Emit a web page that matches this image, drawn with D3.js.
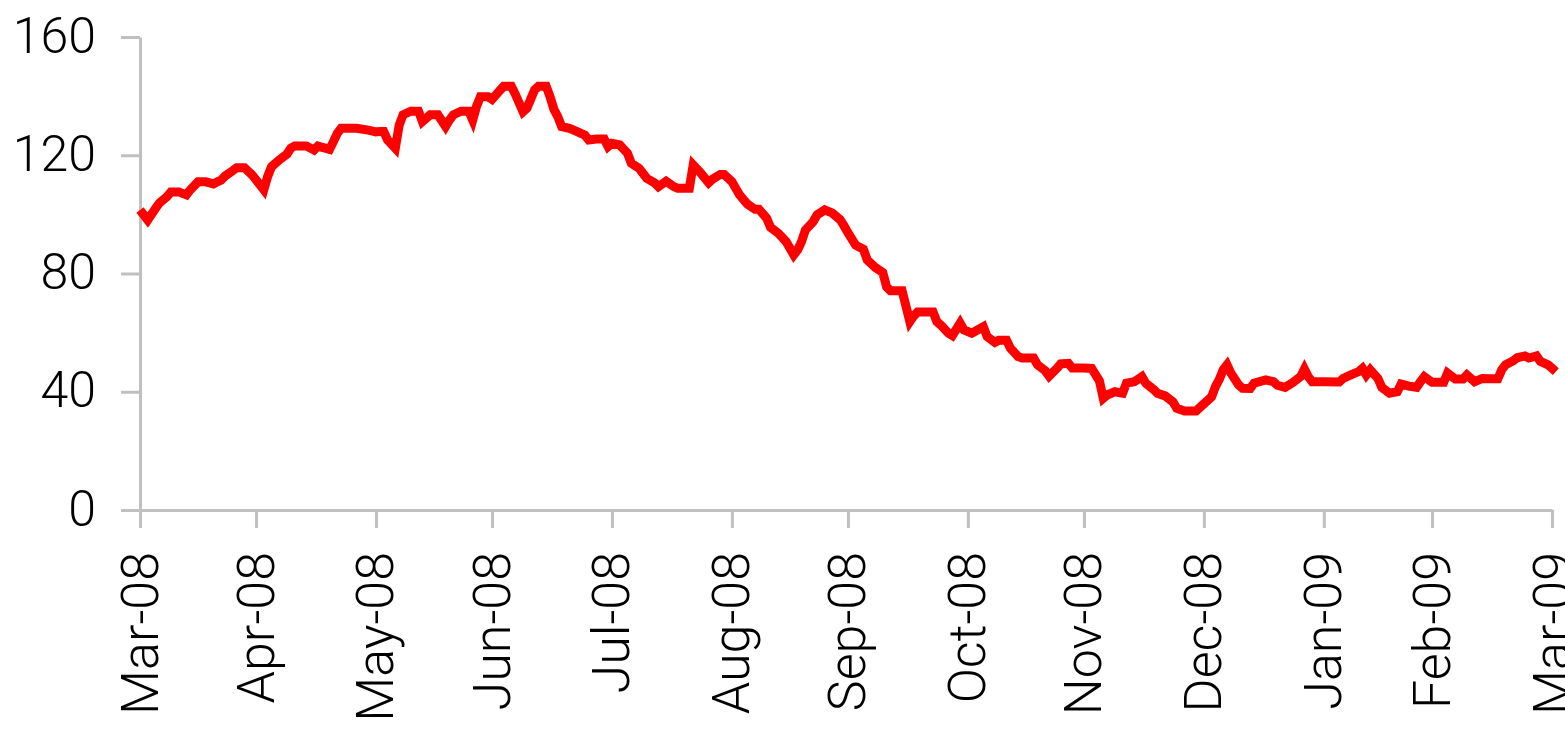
<!DOCTYPE html>
<html>
<head>
<meta charset="utf-8">
<script src="https://cdn.jsdelivr.net/npm/d3@7"></script>
<style>
  html, body { margin: 0; padding: 0; background: #fff; }
  svg { display: block; }
  .axis text { font-family: Roboto, "Liberation Sans", sans-serif; font-weight: 300; fill: #000; }
</style>
</head>
<body>
<svg id="chart" width="1565" height="735"></svg>
<script>
// Daily closing price, Mar-08 to Mar-09
const dates = [
  "2008-03-31","2008-04-02","2008-04-04","2008-04-05","2008-04-07","2008-04-08","2008-04-10","2008-04-12","2008-04-13","2008-04-15",
  "2008-04-17","2008-04-19","2008-04-20","2008-04-21","2008-04-22","2008-04-24","2008-04-25","2008-04-27","2008-04-29","2008-05-01",
  "2008-05-02","2008-05-03","2008-05-04","2008-05-06","2008-05-08","2008-05-09","2008-05-10","2008-05-13","2008-05-15","2008-05-16",
  "2008-05-19","2008-05-20","2008-05-21","2008-05-22","2008-05-26","2008-05-29","2008-05-31","2008-06-01","2008-06-02","2008-06-03",
  "2008-06-05","2008-06-06","2008-06-07","2008-06-09","2008-06-11","2008-06-12","2008-06-14","2008-06-16","2008-06-18","2008-06-19",
  "2008-06-20","2008-06-22","2008-06-24","2008-06-25","2008-06-26","2008-06-27","2008-06-29","2008-06-30","2008-07-02","2008-07-03",
  "2008-07-05","2008-07-06","2008-07-08","2008-07-09","2008-07-11","2008-07-12","2008-07-14","2008-07-15","2008-07-16","2008-07-17",
  "2008-07-18","2008-07-20","2008-07-22","2008-07-24","2008-07-25","2008-07-27","2008-07-29","2008-07-30","2008-07-31","2008-08-02",
  "2008-08-04","2008-08-05","2008-08-07","2008-08-09","2008-08-11","2008-08-12","2008-08-14","2008-08-16","2008-08-17","2008-08-20",
  "2008-08-21","2008-08-23","2008-08-25","2008-08-26","2008-08-28","2008-08-29","2008-08-31","2008-09-01","2008-09-02","2008-09-04",
  "2008-09-06","2008-09-07","2008-09-09","2008-09-10","2008-09-12","2008-09-14","2008-09-16","2008-09-17","2008-09-18","2008-09-19",
  "2008-09-21","2008-09-22","2008-09-24","2008-09-26","2008-09-28","2008-09-29","2008-09-30","2008-10-02","2008-10-04","2008-10-05",
  "2008-10-07","2008-10-09","2008-10-10","2008-10-11","2008-10-14","2008-10-16","2008-10-17","2008-10-18","2008-10-22","2008-10-23",
  "2008-10-24","2008-10-26","2008-10-27","2008-10-29","2008-10-30","2008-11-01","2008-11-04","2008-11-05","2008-11-07","2008-11-08",
  "2008-11-10","2008-11-11","2008-11-13","2008-11-14","2008-11-17","2008-11-18","2008-11-20","2008-11-21","2008-11-23","2008-11-24",
  "2008-11-26","2008-11-27","2008-11-30","2008-12-02","2008-12-03","2008-12-04","2008-12-05","2008-12-06","2008-12-08","2008-12-10",
  "2008-12-11","2008-12-13","2008-12-15","2008-12-16","2008-12-18","2008-12-19","2008-12-21","2008-12-23","2008-12-24","2008-12-26",
  "2008-12-29","2008-12-30","2008-12-31","2009-01-02","2009-01-03","2009-01-04","2009-01-05","2009-01-06","2009-01-07","2009-01-09",
  "2009-01-10","2009-01-12","2009-01-13","2009-01-16","2009-01-18","2009-01-19","2009-01-21","2009-01-23","2009-01-25","2009-01-26",
  "2009-01-27","2009-01-28","2009-01-31","2009-02-04","2009-02-05","2009-02-07","2009-02-09","2009-02-10","2009-02-11","2009-02-12",
  "2009-02-14","2009-02-15","2009-02-17","2009-02-19","2009-02-20","2009-02-22","2009-02-24","2009-02-25","2009-02-26","2009-02-28",
  "2009-03-03","2009-03-04","2009-03-06","2009-03-08","2009-03-09","2009-03-11","2009-03-13","2009-03-15","2009-03-17","2009-03-18",
  "2009-03-19","2009-03-21","2009-03-22","2009-03-24","2009-03-25","2009-03-27","2009-03-28","2009-03-30","2009-04-01"
];
const prices = [
  101.5, 98.1, 102, 103.8, 106, 107.6, 107.6, 106.6, 108.3, 111,
  111, 110.3, 111, 111.6, 113, 114.8, 115.8, 115.8, 113.3, 110,
  108.3, 112.8, 116.1, 118.4, 120.4, 122.4, 123.1, 123.1, 121.8, 123.1,
  122, 124.6, 127.4, 129.1, 129.1, 128.5, 127.9, 128, 128, 125.2,
  122.4, 130.2, 133.7, 134.9, 134.9, 131.4, 133.7, 133.7, 129.7, 131.9,
  133.7, 134.9, 134.9, 131.9, 136.6, 139.8, 139.8, 138.9, 141.9, 143.3,
  143.3, 140.7, 134.7, 135.9, 142.1, 143.3, 143.3, 139.8, 135.5, 133.1,
  129.7, 129.1, 128, 126.8, 125.2, 125.5, 125.5, 122.9, 124, 123.5,
  120.7, 117.3, 115.6, 112.2, 110.7, 109.4, 111.2, 109.4, 108.8, 108.8,
  116.7, 113.9, 110.7, 111.9, 113.5, 113.5, 111.1, 108.8, 106.6, 103.5,
  101.7, 101.7, 98.7, 95.6, 93.6, 90.8, 86.3, 88, 90.8, 94.7,
  97.5, 99.8, 101.5, 100.4, 98.2, 96.1, 93.8, 89.6, 88.2, 84.6,
  82.1, 80.3, 75.5, 74.2, 74.2, 63.7, 65.6, 67, 67, 63.7,
  62.6, 59.8, 59, 63.2, 60.9, 59.8, 62, 58.6, 56.7, 57.4,
  57.4, 54.7, 51.9, 51.4, 51.4, 49.1, 47.1, 45.3, 47.9, 49.4,
  49.6, 48, 48, 47.9, 45.8, 43.7, 37.8, 38.9, 40, 39.5,
  42.9, 43.4, 45.1, 42.9, 40.8, 39.5, 38.6, 36.6, 34.4, 33.5,
  33.5, 34.7, 35.9, 38.3, 41.7, 44.2, 47.4, 49.1, 46.3, 42.3,
  41.2, 41.1, 42.9, 44, 43.4, 42.2, 41.5, 43.1, 45.1, 47.7,
  45.1, 43.4, 43.4, 43.3, 44.5, 45.7, 46.8, 47.9, 45.7, 47.4,
  44.5, 41.5, 39.5, 40, 42.6, 41.9, 41.5, 43.4, 45.1, 43.2,
  43.2, 46.3, 44.3, 44.3, 45.7, 43.4, 44.5, 44.4, 44.4, 47.4,
  49.1, 50.5, 51.5, 52.1, 51.4, 52.1, 50.3, 49.1, 46.8
];
// Month-end tick dates, labelled by month
const monthTicks = [
  "2008-03-31","2008-04-30","2008-05-31","2008-06-30","2008-07-31","2008-08-31","2008-09-30",
  "2008-10-31","2008-11-30","2008-12-31","2009-01-31","2009-02-28","2009-03-31"
];
const yTicks = [0, 40, 80, 120, 160];

const parse = d3.timeParse("%Y-%m-%d");
const series = dates.map((d, i) => ({ date: parse(d), value: prices[i] }));
const tickDates = monthTicks.map(parse);

const svg = d3.select("#chart");
const plotLeft = 140, plotRight = 1552, plotTop = 37, plotBottom = 510;

const x = d3.scaleTime()
  .domain([tickDates[0], tickDates[tickDates.length - 1]])
  .range([plotLeft, plotRight]);
const y = d3.scaleLinear().domain([0, 160]).range([plotBottom, plotTop]);

const axisColor = "#c0c0c0";

// Y axis
const yAxis = svg.append("g")
  .attr("class", "axis")
  .attr("transform", `translate(${plotLeft},0)`)
  .call(d3.axisLeft(y).tickValues(yTicks).tickSize(19).tickSizeOuter(0).tickPadding(25));
yAxis.select(".domain").attr("stroke", axisColor).attr("stroke-width", 3);
yAxis.selectAll(".tick line").attr("stroke", axisColor).attr("stroke-width", 3);
yAxis.selectAll(".tick text")
  .attr("font-size", 50)
  .attr("dy", "0.3em");

// X axis
const xAxis = svg.append("g")
  .attr("class", "axis")
  .attr("transform", `translate(0,${plotBottom})`)
  .call(d3.axisBottom(x).tickValues(tickDates).tickFormat(d3.timeFormat("%b-%y")).tickSize(18).tickSizeOuter(0));
xAxis.select(".domain").attr("stroke", axisColor).attr("stroke-width", 3);
xAxis.selectAll(".tick line").attr("stroke", axisColor).attr("stroke-width", 3);
xAxis.selectAll(".tick text")
  .attr("font-size", 52)
  .attr("text-anchor", "end")
  .attr("transform", "rotate(-90)")
  .attr("x", -42)
  .attr("y", 17)
  .attr("dy", null);

// Price line
const line = d3.line()
  .x(d => x(d.date))
  .y(d => y(d.value));

svg.append("path")
  .datum(series)
  .attr("fill", "none")
  .attr("stroke", "#ff0000")
  .attr("stroke-width", 9)
  .attr("stroke-linejoin", "miter")
  .attr("d", line);
</script>
</body>
</html>
